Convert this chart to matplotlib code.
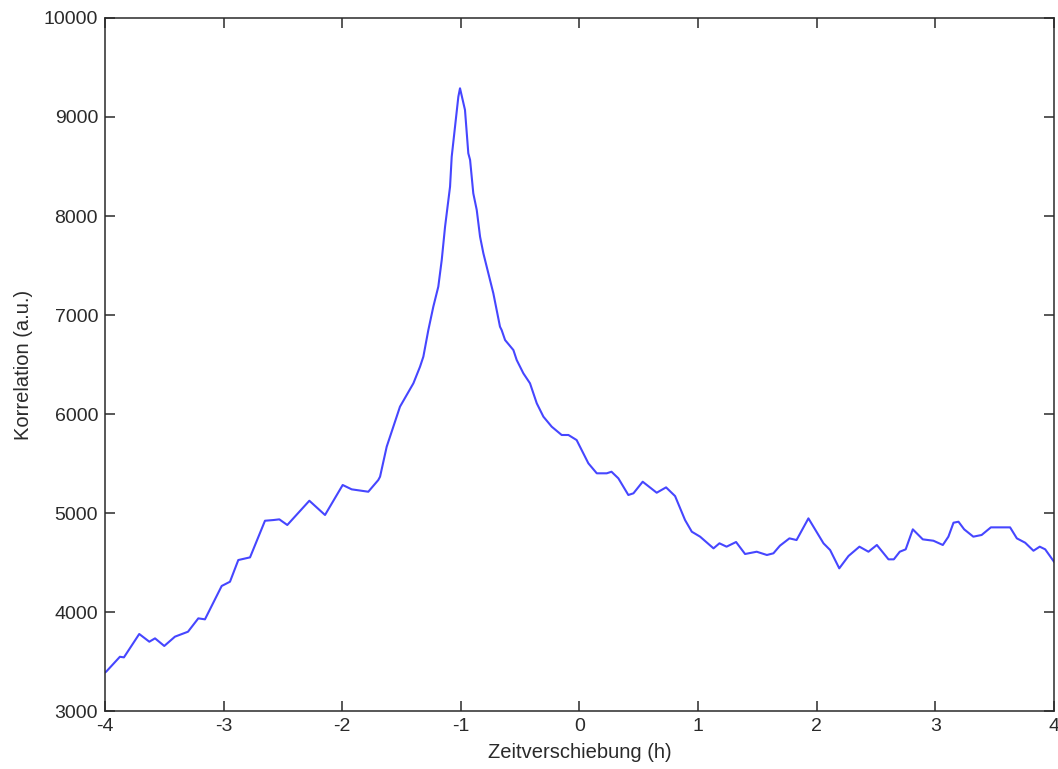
import matplotlib
matplotlib.use("Agg")
import matplotlib.pyplot as plt

# time shift (h) and correlation (a.u.)
zeit = [-4.0, -3.99, -3.874, -3.84, -3.711, -3.626, -3.578, -3.50, -3.41, -3.30,
        -3.213, -3.157, -3.016, -2.946, -2.876, -2.777, -2.651, -2.58, -2.53, -2.463,
        -2.277, -2.145, -1.996, -1.92, -1.78, -1.696, -1.681, -1.625, -1.569, -1.513,
        -1.40, -1.344, -1.316, -1.274, -1.232, -1.19, -1.161, -1.133, -1.091, -1.077,
        -1.049, -1.021, -1.007, -0.965, -0.937, -0.922, -0.895, -0.866, -0.838, -0.81,
        -0.782, -0.726, -0.67, -0.656, -0.627, -0.557, -0.529, -0.473, -0.417, -0.36,
        -0.304, -0.234, -0.15, -0.093, -0.024, 0.075,
        0.146, 0.23, 0.27, 0.328, 0.412, 0.455, 0.533, 0.651, 0.73, 0.806,
        0.89, 0.947, 1.017, 1.13, 1.18, 1.24, 1.32, 1.396, 1.494, 1.58,
        1.635, 1.69, 1.77, 1.83, 1.93, 2.057, 2.113, 2.19, 2.268, 2.36,
        2.436, 2.507, 2.605, 2.65, 2.70, 2.75, 2.81, 2.894, 2.984, 3.063,
        3.11, 3.153, 3.195, 3.243, 3.32, 3.39, 3.468, 3.63, 3.687, 3.757,
        3.827, 3.88, 3.926, 4.0]
korrelation = [3390, 3397, 3548, 3542, 3778, 3700, 3734, 3657, 3751, 3801,
               3936, 3926, 4263, 4306, 4525, 4552, 4922, 4929, 4936, 4879,
               5124, 4980, 5283, 5239, 5215, 5333, 5367, 5670, 5872, 6074,
               6310, 6478, 6579, 6848, 7084, 7286, 7556, 7892, 8296, 8599,
               8902, 9205, 9290, 9071, 8633, 8566, 8229, 8061, 7791, 7623,
               7488, 7219, 6882, 6848, 6747, 6646, 6545, 6411, 6310, 6108,
               5973, 5872, 5788, 5788, 5737, 5502,
               5401, 5401, 5417, 5350, 5182, 5199, 5316, 5205, 5259, 5171,
               4929, 4811, 4761, 4643, 4694, 4660, 4707, 4586, 4609, 4576,
               4593, 4670, 4744, 4727, 4946, 4694, 4626, 4441, 4566, 4660,
               4609, 4677, 4532, 4532, 4609, 4633, 4835, 4734, 4720, 4677,
               4761, 4902, 4912, 4835, 4761, 4778, 4855, 4855, 4744, 4700,
               4619, 4660, 4633, 4508]

xticks = [-4, -3, -2, -1, 0, 1, 2, 3, 4]
yticks = [3000, 4000, 5000, 6000, 7000, 8000, 9000, 10000]

plt.rcParams['font.family'] = ['Liberation Sans', 'DejaVu Sans']

fig = plt.figure(figsize=(10.58, 7.69), dpi=100)
ax = fig.add_axes([0.0992, 0.0754, 0.8970, 0.9012])

ax.plot(zeit, korrelation, color='#4646ff', linewidth=1.5)

ax.set_xlim(-4, 4)
ax.set_ylim(3000, 10000)
ax.set_xticks(xticks)
ax.set_yticks(yticks)
ax.set_xticklabels([str(t) for t in xticks])
ax.set_yticklabels([str(t) for t in yticks])
ax.tick_params(direction='in', length=7, width=1.1, top=True, right=True,
               labelsize=14, colors='#2a2a2a', pad=5)
for s in ax.spines.values():
    s.set_linewidth(1.1)
    s.set_color('#2a2a2a')

ax.set_xlabel("Zeitverschiebung (h)", fontsize=14.5, labelpad=6, color='#2a2a2a')
ax.set_ylabel("Korrelation (a.u.)", fontsize=14.5, labelpad=8, color='#2a2a2a')

fig.savefig("out.png", dpi=100)
